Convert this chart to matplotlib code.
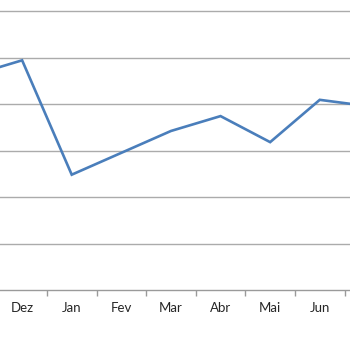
import numpy as np
import matplotlib.pyplot as plt

# Category values (Nov and Jul are cut at the edges)
months = ["Nov", "Dez", "Jan", "Fev", "Mar", "Abr", "Mai", "Jun", "Jul"]
values = [4.62, 4.94, 2.48, 2.95, 3.42, 3.74, 3.18, 4.09, 3.95]
grid_levels = [1, 2, 3, 4, 5, 6]

LINE_COLOR = "#4a7ebb"
GRID_COLOR = "#ababab"

fig = plt.figure(figsize=(3.5, 3.5), dpi=100)
# the chart is cropped: axes run off the left, right and top edges
ax = fig.add_axes([0, 60 / 350, 1, 290 / 350])

x = np.arange(len(months))
ax.plot(x, values, color=LINE_COLOR, lw=1.9, solid_joinstyle="miter", zorder=3)

for g in grid_levels:
    ax.axhline(g, color=GRID_COLOR, lw=1.0, zorder=1)

for side in ["top", "left", "right"]:
    ax.spines[side].set_visible(False)
ax.spines["bottom"].set_color("#9a9a9a")
ax.spines["bottom"].set_linewidth(1.0)

ax.set_yticks([])
ax.set_xticks([])
ax.set_xticks(x[1:-1] + 0.5, minor=True)
ax.tick_params(axis="x", which="minor", length=4, width=1.0, color="#9a9a9a",
               direction="out", labelbottom=False)

# month labels on a common baseline (only those inside the crop)
for i in x[1:-1]:
    ax.annotate(months[i], xy=(i, 0), xycoords=("data", "axes fraction"),
                xytext=(0, -15.8), textcoords="offset points",
                ha="center", va="baseline", fontsize=9.5, family="Lato",
                color="#262626", annotation_clip=False)

ax.set_xlim(0.554, 7.61)
ax.set_ylim(0, 6.237)

fig.savefig("out.png", dpi=100)
